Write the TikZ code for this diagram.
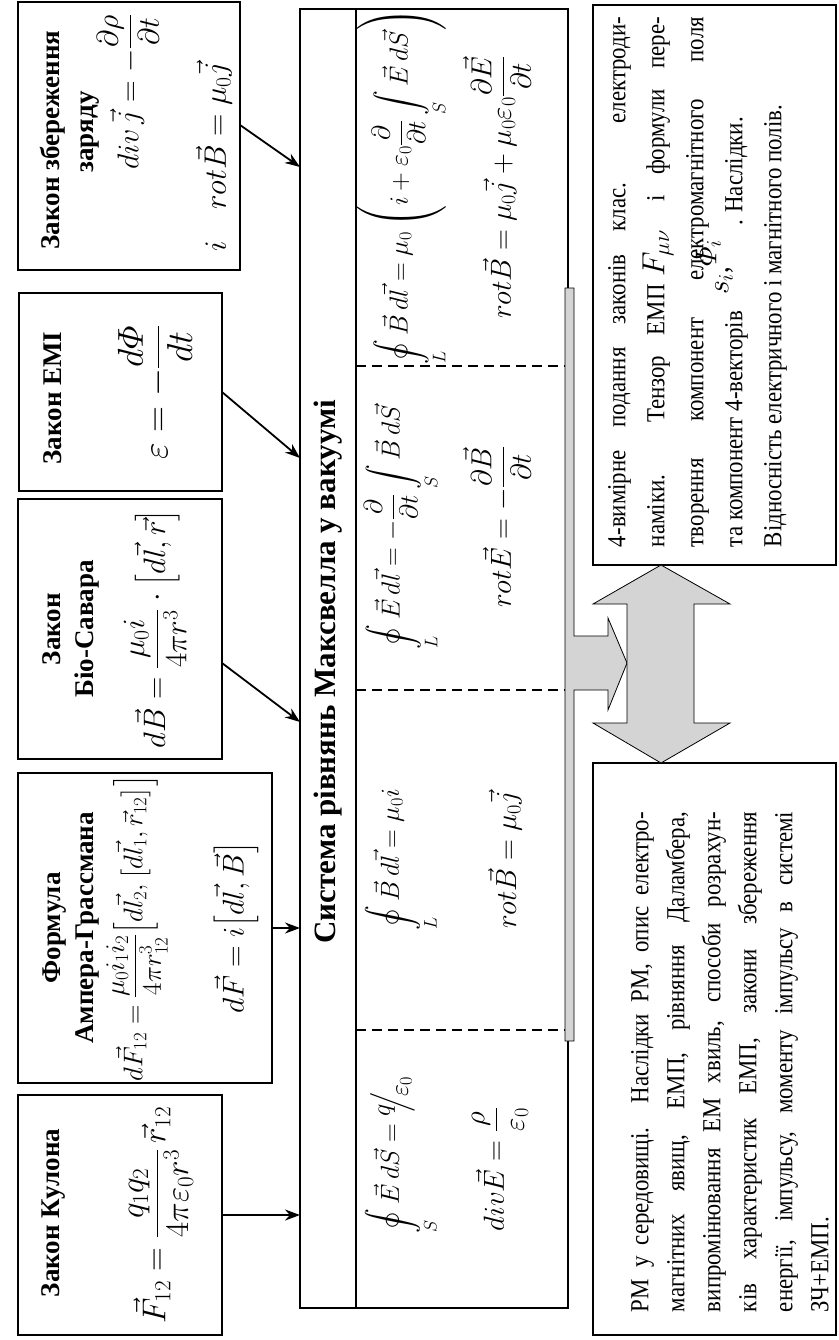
\RequirePackage{fix-cm}
\documentclass[tikz,border=0pt]{standalone}
\usepackage{amsmath}
\usepackage{fontspec}
\setmainfont{Liberation Serif}
\newfontfamily\bodyfont[FakeStretch=0.88]{Liberation Serif}
\usetikzlibrary{arrows.meta}
\newcommand\jl[1]{\hbox to \jw{#1}}
\newcommand\nl[1]{\hbox to \jw{#1\hfil}}
\newdimen\jw
\begin{document}
\begin{tikzpicture}[x=1pt,y=-1pt,
  box/.style={draw,line width=1.5pt,inner sep=0pt,outer sep=0pt,rectangle},
  ttl/.style={rotate=90,inner sep=0pt,font=\fontsize{27}{30}\selectfont\bfseries},
  frm/.style={rotate=90,inner sep=0pt,font=\fontsize{26}{30}\selectfont},
  conn/.style={line width=1.8pt,-{Stealth[length=15pt,width=11pt]}},
  sepline/.style={line width=1.3pt,dash pattern=on 10pt off 6pt},
  shade/.style={fill=black!17,draw=black,line width=0.8pt},
  para/.style={rotate=90,inner sep=0pt,font=\bodyfont\fontsize{26}{30}\selectfont}]
\useasboundingbox (0,0) rectangle (838,1340);
\fill[white] (0,0) rectangle (838,1340);

% boxes
\node[box,minimum width=222pt,minimum height=268pt] (zar) at (129,136) {};
\node[box,minimum width=203pt,minimum height=198pt] (emi) at (120.5,392) {};
\node[box,minimum width=204pt,minimum height=260pt] (bio) at (120,629) {};
\node[box,minimum width=254pt,minimum height=310pt] (amp) at (145,928) {};
\node[box,minimum width=204pt,minimum height=240pt] (coul) at (120,1215) {};
\node[box,minimum width=268pt,minimum height=1299pt] (maxw) at (434,658.5) {};
\node[box,minimum width=243pt,minimum height=560pt] (r4) at (714.5,285) {};
\node[box,minimum width=243pt,minimum height=572pt] (rm) at (714.5,1049) {};

% Maxwell box inner lines
\draw[line width=1.5pt] (356,9) -- (356,1308);
\draw[sepline] (356,366) -- (565,366);
\draw[sepline] (356,690) -- (565,690);
\draw[sepline] (356,1030) -- (565,1030);

% shaded bracket arrow and double arrow
\draw[shade] (565,288) -- (574,288) -- (574,636) -- (608,636) -- (608,618) -- (627,663)
  -- (608,710) -- (608,690) -- (574,690) -- (574,1041) -- (565,1041) -- cycle;
\draw[shade] (661,565) -- (730,604) -- (694,604) -- (694,723) -- (730,723) -- (661,763)
  -- (593,723) -- (627,723) -- (627,604) -- (593,604) -- cycle;

% connectors
\coordinate (zarO) at (zar.east |- 0,125);
\coordinate (zarI) at (maxw.west |- 0,167);
\coordinate (emiO) at (emi.east |- 0,392);
\coordinate (emiI) at (maxw.west |- 0,458);
\coordinate (bioO) at (bio.east |- 0,663);
\coordinate (bioI) at (maxw.west |- 0,722);
\draw[conn] (zarO) -- (zarI);
\draw[conn] (emiO) -- (emiI);
\draw[conn] (bioO) -- (bioI);
\draw[conn] (amp.east) -- (maxw.west |- amp.east);
\draw[conn] (coul.east) -- (maxw.west |- coul.east);

% Coulomb
\node[ttl] (tcoul) at (53,1213) {Закон Кулона};
\node[frm,font=\fontsize{33}{36}\selectfont] (fcoul) at (161,1215)
  {$\displaystyle \vec F_{12}=\frac{q_1q_2}{4\pi\varepsilon_0 r^3}\,\vec r_{12}$};

% Ampere
\node[ttl] (tamp1) at (55,928) {Формула};
\node[ttl] (tamp2) at (87,928) {Ампера-Грассмана};
\node[frm,font=\fontsize{27}{30}\selectfont] (famp1) at (137,928)
  {$\displaystyle d\vec F_{12}=\frac{\mu_0 i_1 i_2}{4\pi r_{12}^3}\Bigl[d\vec l_2,\bigl[d\vec l_1,\vec r_{12}\bigr]\Bigr]$};
\node[frm,font=\fontsize{30}{32}\selectfont] (famp2) at (236,928) {$d\vec F=i\bigl[d\vec l,\vec B\bigr]$};

% Biot-Savart
\node[ttl] (tbio1) at (52,629) {Закон};
\node[ttl] (tbio2) at (87,629) {Біо-Савара};
\node[frm,font=\fontsize{31}{34}\selectfont] (fbio) at (155,629)
  {$\displaystyle d\vec B=\frac{\mu_0 i}{4\pi r^3}\cdot\bigl[d\vec l,\vec r\bigr]$};

% EMI
\node[ttl] (temi) at (53,398) {Закон ЕМІ};
\node[frm,font=\fontsize{36}{38}\selectfont] (femi) at (155,392)
  {$\displaystyle \varepsilon=-\frac{d\varPhi}{dt}$};

% charge conservation
\node[ttl] (tzar1) at (53,140) {Закон збереження};
\node[ttl] (tzar2) at (90,132) {заряду};
\node[frm,font=\fontsize{30}{32}\selectfont] (fzar1) at (128,92) {$\displaystyle div\,\vec j=-\frac{\partial\rho}{\partial t}$};
\node[frm,font=\fontsize{31}{34}\selectfont] (fzar2) at (214,157) {$i\quad rot\vec B=\mu_0\vec j$};

% Maxwell title and equations
\node[ttl,font=\fontsize{31}{34}\selectfont\bfseries] (mtitle) at (328,672)
  {Система рівнянь Максвелла у вакуумі};
\node[frm] (m11) at (402,1155) {$\displaystyle \oint\limits_S \vec E\,d\vec S=\raisebox{9pt}{$q$}\!\!\Big/\!\raisebox{-9pt}{$\varepsilon_0$}$};
\node[frm,font=\fontsize{29}{32}\selectfont] (m12) at (500,1169) {$\displaystyle div\vec E=\frac{\rho}{\varepsilon_0}$};
\node[frm] (m21) at (402,860) {$\displaystyle \oint\limits_L \vec B\,d\vec l=\mu_0 i$};
\node[frm,font=\fontsize{29}{32}\selectfont] (m22) at (505,860) {$rot\vec B=\mu_0\vec j$};
\node[frm] (m31) at (402,527) {$\displaystyle \oint\limits_L \vec E\,d\vec l=-\frac{\partial}{\partial t}\int\limits_S \vec B\,d\vec S$};
\node[frm,font=\fontsize{29}{32}\selectfont] (m32) at (497,527) {$\displaystyle rot\vec E=-\frac{\partial\vec B}{\partial t}$};
\node[frm] (m41) at (402,187) {$\displaystyle \oint\limits_L \vec B\,d\vec l=\mu_0\left(i+\varepsilon_0\frac{\partial}{\partial t}\int\limits_S \vec E\,d\vec S\right)$};
\node[frm,font=\fontsize{29}{32}\selectfont] (m42) at (497,187) {$\displaystyle rot\vec B=\mu_0\vec j+\mu_0\varepsilon_0\frac{\partial\vec E}{\partial t}$};

% text boxes
\node[para,anchor=north] (t4) at (608,282) {\jw=530pt\vbox{\baselineskip=39pt\lineskiplimit=-100pt
\jl{4-вимірне подання законів клас. електроди-}
\jl{наміки. Тензор ЕМП\hspace{8pt}{\fontsize{32}{32}\selectfont$F_{\mu\nu}$}\hspace{8pt} і формули пере-}
\jl{творення компонент електромагнітного поля}
\nl{та компонент 4-векторів\hspace{16pt}\smash{\raisebox{14pt}{\fontsize{30}{30}\selectfont$s_i$,}}\smash{\raisebox{26pt}{\fontsize{30}{30}\selectfont$\varPhi_i$}}\hspace{14pt}. Наслідки.}
\nl{Відносність електричного і магнітного полів.}}};

\node[para,anchor=north] (trm) at (631,1062) {\jw=500pt\vbox{\baselineskip=36pt\lineskiplimit=-100pt
\jl{РМ у середовищі. Наслідки РМ, опис електро-}
\jl{магнітних явищ, ЕМП, рівняння Даламбера,}
\jl{випромінювання ЕМ хвиль, способи розрахун-}
\jl{ків характеристик ЕМП, закони збереження}
\jl{енергії, імпульсу, моменту імпульсу в системі}
\nl{ЗЧ+ЕМП.}}};
\end{tikzpicture}
\end{document}
